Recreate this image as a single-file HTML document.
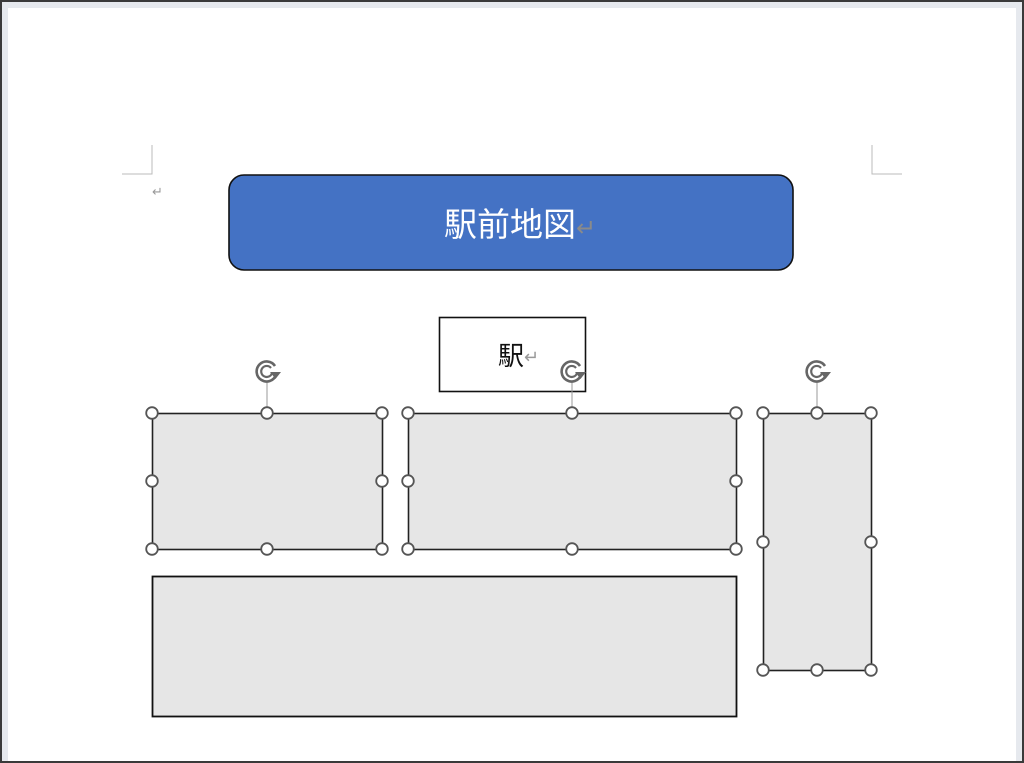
<!DOCTYPE html>
<html><head><meta charset="utf-8"><style>
html,body{margin:0;padding:0;background:#fff;}
svg{display:block;}
text{font-family:"Liberation Sans","Noto Sans CJK JP",sans-serif;}
</style></head><body>
<svg width="1024" height="763" viewBox="0 0 1024 763" xmlns="http://www.w3.org/2000/svg">
<defs>
<g id="rot">
<path d="M8,-5 A10,10 0 1 0 9,4" fill="none" stroke="#666" stroke-width="2.6"/>
<path d="M4,-3 A5.5,5.5 0 1 0 5,2" fill="none" stroke="#666" stroke-width="2.2"/>
<path d="M3,1 L14,1 L8.5,8 Z" fill="#666"/>
</g>
<g id="h"><circle r="5.8" fill="#fff" stroke="#555" stroke-width="1.8"/></g>
</defs>
<rect x="0" y="0" width="1024" height="763" fill="#3a3a3a"/>
<rect x="2" y="2" width="1020" height="759" fill="#e6e9ee"/>
<rect x="8" y="8" width="1008" height="753" fill="#fff"/>
<path d="M152,145 V174 H122" fill="none" stroke="#bbb" stroke-width="1"/>
<path d="M872,145 V174 H902" fill="none" stroke="#bbb" stroke-width="1"/>
<text x="152" y="196" font-size="13" fill="#999">↵</text>
<rect x="229" y="175" width="564" height="95" rx="15" fill="#4472c4" stroke="#111" stroke-width="1.6"/>
<text x="444" y="236" font-size="33" fill="#fff">駅前地図</text>
<text x="576" y="236" font-size="24" fill="#8a8a8a">↵</text>
<rect x="439.5" y="317.5" width="146" height="74" fill="#fff" stroke="#111" stroke-width="1.6"/>
<text x="498" y="365" font-size="26" fill="#111">駅</text>
<text x="524" y="363" font-size="18" fill="#999">↵</text>
<rect x="152.5" y="413.5" width="230" height="136" fill="#e6e6e6" stroke="#222" stroke-width="1.6"/>
<rect x="408.5" y="413.5" width="328" height="136" fill="#e6e6e6" stroke="#222" stroke-width="1.6"/>
<rect x="763.5" y="413.5" width="108" height="257" fill="#e6e6e6" stroke="#222" stroke-width="1.6"/>
<rect x="152.5" y="576.5" width="584" height="140" fill="#e6e6e6" stroke="#111" stroke-width="1.8"/>
<line x1="267" y1="381" x2="267" y2="413" stroke="#999"/>
<line x1="572" y1="381" x2="572" y2="413" stroke="#999"/>
<line x1="817" y1="381" x2="817" y2="413" stroke="#999"/>
<use href="#rot" x="267" y="371"/>
<use href="#rot" x="572" y="371"/>
<use href="#rot" x="817" y="371"/>
<use href="#h" x="152" y="413"/><use href="#h" x="267" y="413"/><use href="#h" x="382" y="413"/>
<use href="#h" x="152" y="481"/><use href="#h" x="382" y="481"/>
<use href="#h" x="152" y="549"/><use href="#h" x="267" y="549"/><use href="#h" x="382" y="549"/>
<use href="#h" x="408" y="413"/><use href="#h" x="572" y="413"/><use href="#h" x="736" y="413"/>
<use href="#h" x="408" y="481"/><use href="#h" x="736" y="481"/>
<use href="#h" x="408" y="549"/><use href="#h" x="572" y="549"/><use href="#h" x="736" y="549"/>
<use href="#h" x="763" y="413"/><use href="#h" x="817" y="413"/><use href="#h" x="871" y="413"/>
<use href="#h" x="763" y="542"/><use href="#h" x="871" y="542"/>
<use href="#h" x="763" y="670"/><use href="#h" x="817" y="670"/><use href="#h" x="871" y="670"/>
</svg>
</body></html>
